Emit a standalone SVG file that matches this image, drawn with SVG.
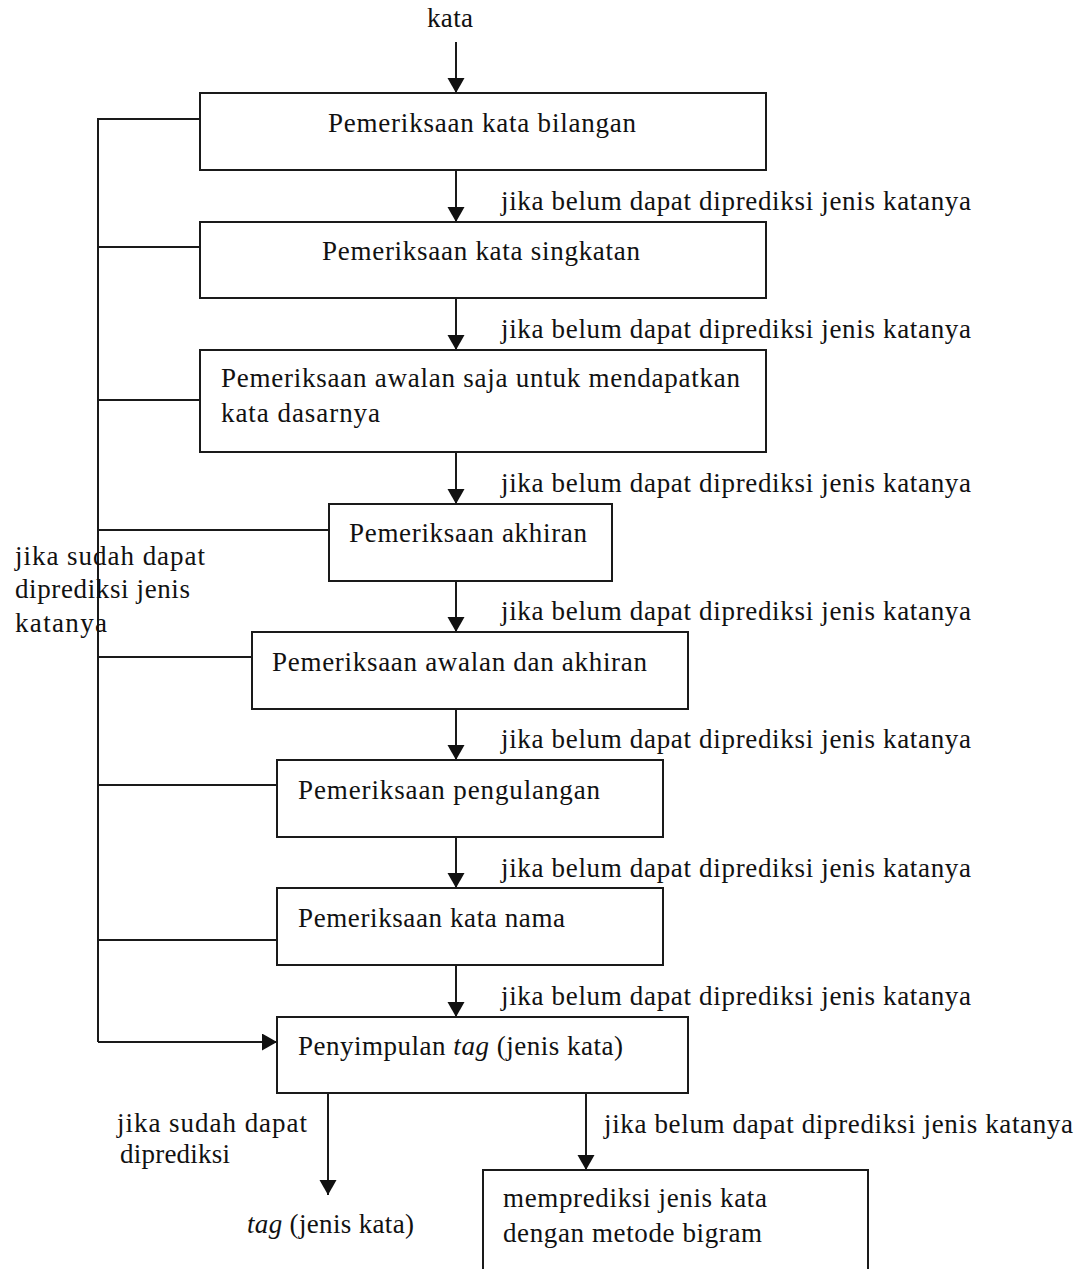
<svg xmlns="http://www.w3.org/2000/svg" width="1078" height="1269" viewBox="0 0 1078 1269">
  <style>
    .box { fill: #ffffff; stroke: #1a1a1a; stroke-width: 2; }
    .wire { fill: none; stroke: #1a1a1a; stroke-width: 2; }
    .arrow { fill: none; stroke: #1a1a1a; stroke-width: 2; marker-end: url(#head); }
    text { font-family: "Liberation Serif", "Times New Roman", serif; font-size: 27px; fill: #111111; }
    .it { font-style: italic; }
  </style>
  <defs>
    <marker id="head" markerUnits="userSpaceOnUse" markerWidth="16" markerHeight="18" refX="15" refY="8.5" orient="auto">
      <path d="M0,0 L15,8.5 L0,17 z" fill="#111111"/>
    </marker>
  </defs>

  <rect width="1078" height="1269" fill="#ffffff"/>

  <!-- input word -->
  <text x="427" y="27" textLength="46">kata</text>

  <!-- connectors -->
  <g id="connectors">
    <!-- main flow down the checks -->
    <line class="arrow" x1="456" y1="42" x2="456" y2="93"/>
    <line class="arrow" x1="456" y1="170" x2="456" y2="222"/>
    <line class="arrow" x1="456" y1="298" x2="456" y2="350"/>
    <line class="arrow" x1="456" y1="452" x2="456" y2="504"/>
    <line class="arrow" x1="456" y1="581" x2="456" y2="632"/>
    <line class="arrow" x1="456" y1="709" x2="456" y2="760"/>
    <line class="arrow" x1="456" y1="837" x2="456" y2="888"/>
    <line class="arrow" x1="456" y1="965" x2="456" y2="1017"/>

    <!-- early-exit bus on the left -->
    <polyline class="wire" points="200,119 98,119 98,1042"/>
    <line class="wire" x1="98" y1="247" x2="200" y2="247"/>
    <line class="wire" x1="98" y1="400" x2="200" y2="400"/>
    <line class="wire" x1="98" y1="530" x2="329" y2="530"/>
    <line class="wire" x1="98" y1="657" x2="252" y2="657"/>
    <line class="wire" x1="98" y1="785" x2="277" y2="785"/>
    <line class="wire" x1="98" y1="940" x2="277" y2="940"/>
    <line class="arrow" x1="98" y1="1042" x2="277" y2="1042"/>

    <!-- outputs of the conclusion step -->
    <line class="arrow" x1="328" y1="1093" x2="328" y2="1195"/>
    <line class="arrow" x1="586" y1="1093" x2="586" y2="1170"/>

    <!-- connector labels -->
    <text x="501" y="210" textLength="470">jika belum dapat diprediksi jenis katanya</text>
    <text x="501" y="338" textLength="470">jika belum dapat diprediksi jenis katanya</text>
    <text x="501" y="492" textLength="470">jika belum dapat diprediksi jenis katanya</text>
    <text x="501" y="620" textLength="470">jika belum dapat diprediksi jenis katanya</text>
    <text x="501" y="748" textLength="470">jika belum dapat diprediksi jenis katanya</text>
    <text x="501" y="877" textLength="470">jika belum dapat diprediksi jenis katanya</text>
    <text x="501" y="1005" textLength="470">jika belum dapat diprediksi jenis katanya</text>

    <text x="15" y="565" textLength="190">jika sudah dapat</text>
    <text x="15" y="598" textLength="175">diprediksi jenis</text>
    <text x="15" y="632" textLength="92">katanya</text>

    <text x="117" y="1132" textLength="190">jika sudah dapat</text>
    <text x="120" y="1163" textLength="110">diprediksi</text>
    <text x="604" y="1133" textLength="469">jika belum dapat diprediksi jenis katanya</text>
  </g>

  <!-- result tag -->
  <text x="247" y="1233" textLength="167"><tspan class="it">tag</tspan> (jenis kata)</text>

  <g id="cek-bilangan">
    <rect class="box" x="200" y="93" width="566" height="77"/>
    <text x="328" y="132" textLength="308">Pemeriksaan kata bilangan</text>
  </g>
  <g id="cek-singkatan">
    <rect class="box" x="200" y="222" width="566" height="76"/>
    <text x="322" y="260" textLength="318">Pemeriksaan kata singkatan</text>
  </g>
  <g id="cek-awalan">
    <rect class="box" x="200" y="350" width="566" height="102"/>
    <text x="221" y="387" textLength="519">Pemeriksaan awalan saja untuk mendapatkan</text>
    <text x="221" y="422" textLength="159">kata dasarnya</text>
  </g>
  <g id="cek-akhiran">
    <rect class="box" x="329" y="504" width="283" height="77"/>
    <text x="349" y="542" textLength="238">Pemeriksaan akhiran</text>
  </g>
  <g id="cek-awalan-akhiran">
    <rect class="box" x="252" y="632" width="436" height="77"/>
    <text x="272" y="671" textLength="375">Pemeriksaan awalan dan akhiran</text>
  </g>
  <g id="cek-pengulangan">
    <rect class="box" x="277" y="760" width="386" height="77"/>
    <text x="298" y="799" textLength="302">Pemeriksaan pengulangan</text>
  </g>
  <g id="cek-nama">
    <rect class="box" x="277" y="888" width="386" height="77"/>
    <text x="298" y="927" textLength="267">Pemeriksaan kata nama</text>
  </g>
  <g id="penyimpulan">
    <rect class="box" x="277" y="1017" width="411" height="76"/>
    <text x="298" y="1055" textLength="325">Penyimpulan <tspan class="it">tag</tspan> (jenis kata)</text>
  </g>
  <g id="bigram">
    <rect class="box" x="483" y="1170" width="385" height="110"/>
    <text x="503" y="1207" textLength="264">memprediksi jenis kata</text>
    <text x="503" y="1242" textLength="259">dengan metode bigram</text>
  </g>
</svg>
